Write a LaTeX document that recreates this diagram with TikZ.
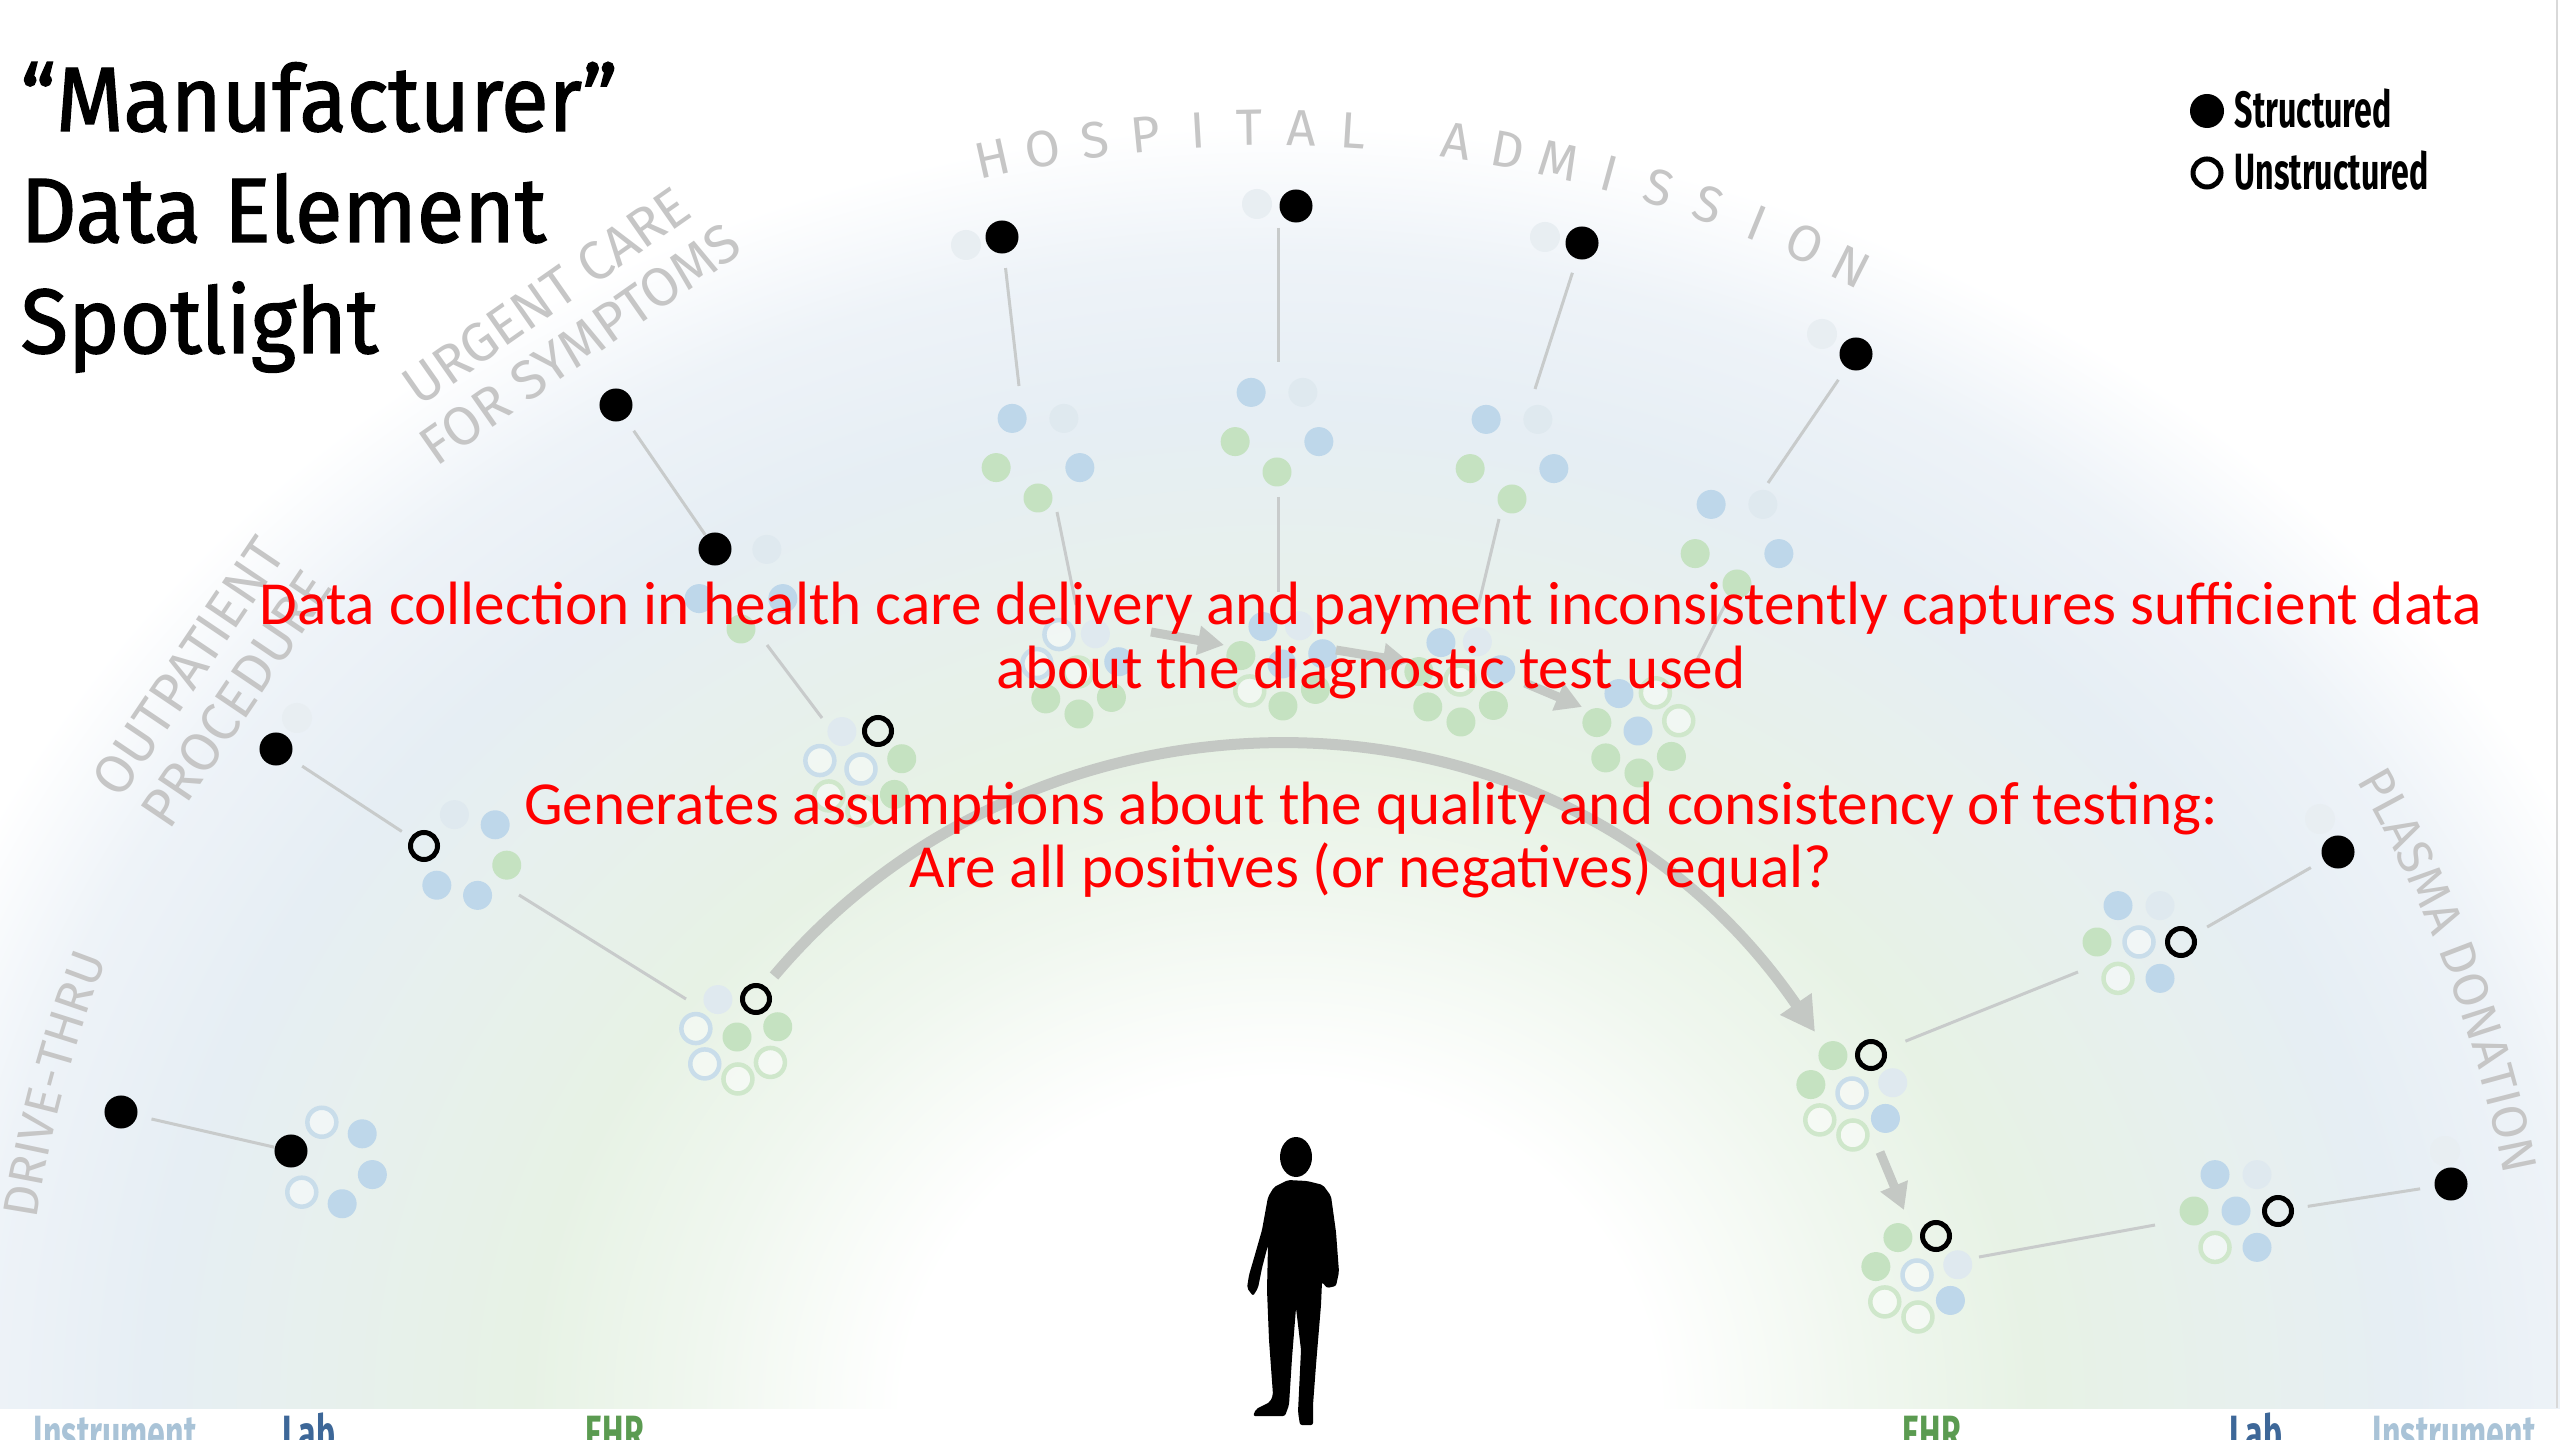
\documentclass[tikz,border=0pt]{standalone}
\usepackage{fontspec}
\setmainfont{Fira Sans}
\newfontfamily\titlefont[FakeBold=1.6]{Fira Sans}
\newfontfamily\msgfont{Carlito}
\usetikzlibrary{arrows.meta,decorations.text}

% background glow
\definecolor{glowA}{HTML}{F0F7EF}
\definecolor{glowB}{HTML}{E7F2E5}
\definecolor{glowC}{HTML}{E7F0ED}
\definecolor{glowD}{HTML}{E6EEF4}
\definecolor{glowE}{HTML}{EEF3F8}
% cluster dots
\definecolor{cluB}{HTML}{BED7EA}
\definecolor{cluG}{HTML}{C5E2C1}
\definecolor{cluBr}{HTML}{C9DDEA}
\definecolor{cluGr}{HTML}{CFE7CB}
\definecolor{cluF}{HTML}{DFE9EF}
\definecolor{ghost}{HTML}{E8EEF2}
% lines and text
\definecolor{linegray}{HTML}{C8CBCB}
\definecolor{arrowgray}{HTML}{C4C8C4}
\definecolor{labelgray}{HTML}{C6C6C6}
\definecolor{instr}{HTML}{A9C3D7}
\definecolor{labblue}{HTML}{3D6798}
\definecolor{ehrgreen}{HTML}{5B9B51}
\definecolor{msgred}{HTML}{FF0000}

\pgfdeclareradialshading{glow}{\pgfpoint{0bp}{0bp}}{%
  color(0bp)=(white); color(6.5bp)=(white); color(10bp)=(glowA);
  color(13bp)=(glowB); color(16.5bp)=(glowC); color(19.5bp)=(glowD);
  color(22.5bp)=(glowE); color(25bp)=(white); color(50bp)=(white)}

\newcommand{\arcfont}{\fontsize{14}{14}\selectfont\color{labelgray}}

\tikzset{
  sdot/.style={circle, fill=black, inner sep=0pt, minimum size=0.33cm},
  udot/.style={circle, draw=black, line width=0.05cm, inner sep=0pt, minimum size=0.27cm},
  conn/.style={draw=linegray, line width=0.03cm},
  flow/.style={draw=arrowgray, line width=0.11cm, -{Triangle[length=0.34cm,width=0.36cm]}},
  smallflow/.style={draw=arrowgray, line width=0.09cm, -{Triangle[length=0.26cm,width=0.28cm]}},
  cB/.style={fill=cluB},
  cG/.style={fill=cluG},
  cb/.style={draw=cluBr, line width=0.045cm, fill=white, fill opacity=0.45},
  cg/.style={draw=cluGr, line width=0.045cm, fill=white, fill opacity=0.45},
  cf/.style={fill=cluF},
  cn/.style={},
  ghostdot/.style={fill=ghost},
  titletext/.style={anchor=base west, inner sep=0pt, font=\titlefont\fontsize{26}{26}\selectfont},
  legendtext/.style={anchor=base west, inner sep=0pt, font=\fontsize{14.5}{15}\selectfont\bfseries},
  tag/.style={anchor=base west, inner sep=0pt, font=\fontsize{14.5}{15}\selectfont\bfseries},
  arcletter/.style={inner sep=0pt, font=\fontsize{14.5}{15}\selectfont, text=labelgray},
  arclabel/.style={inner sep=0pt, align=center, font=\fontsize{15.5}{16.5}\selectfont, text=labelgray},
  msg/.style={anchor=base, inner sep=0pt, font=\msgfont\fontsize{17.4}{20}\selectfont, text=msgred},
}

% ring of small dots: centre x, centre y, radius, first angle, count, styles
\newcommand{\bloom}[6]{%
  \foreach \cst [count=\cidx from 0] in {#6} {%
    \pgfmathsetmacro{\bx}{#1+#3*cos(#4+\cidx*360/#5)}%
    \pgfmathsetmacro{\by}{#2+#3*sin(#4+\cidx*360/#5)}%
    \path[\cst] (\bx,\by) circle[radius=14.5];%
  }%
}

\begin{document}
\begin{tikzpicture}[x=0.01cm,y=-0.01cm]
\useasboundingbox (0,0) rectangle (2560,1440);
\fill[white] (0,0) rectangle (2560,1440);

% glow behind the journey
\begin{scope}
  \clip (0,0) rectangle (2560,1408);
  \shade[shading=glow] (1280,1415) ellipse [x radius=1450, y radius=1290];
\end{scope}
\draw[gray!30, line width=0.02cm] (2557,0) -- (2557,1408);

% faint halos beside the structured points
\foreach \gx/\gy in {297/718, 966/245, 1257/204, 1545/237, 1822/334, 2320/819, 2445/1151}
  \path[ghostdot] (\gx,\gy) circle[radius=15];

% clusters of data elements
\bloom{332}{1163}{42}{196}{6}{cn,cb,cB,cB,cB,cb}
\bloom{466}{855}{42}{194}{6}{cn,cf,cB,cG,cB,cB}
\bloom{737}{1037}{42}{243}{7}{cf,cn,cG,cg,cg,cb,cb}
\path[cG] (737,1037) circle[radius=14.5];
\bloom{741}{585}{44}{234}{5}{cn,cf,cB,cG,cB}
\bloom{861}{769}{42}{243}{7}{cf,cn,cG,cG,cg,cg,cb}
\path[cb] (861,769) circle[radius=14.5];
\bloom{1038}{454}{44}{90}{5}{cG,cG,cB,cf,cB}
\bloom{1277}{428}{44}{90}{5}{cG,cG,cB,cf,cB}
\bloom{1512}{455}{44}{90}{5}{cG,cG,cB,cf,cB}
\bloom{1737}{540}{44}{90}{5}{cG,cG,cB,cf,cB}
\bloom{1078}{672}{42}{243}{7}{cb,cf,cB,cG,cG,cG,cb}
\path[cg] (1078,672) circle[radius=14.5];
\bloom{1282}{664}{42}{243}{7}{cB,cf,cB,cG,cG,cg,cG}
\path[cB] (1282,664) circle[radius=14.5];
\bloom{1460}{680}{42}{243}{7}{cB,cf,cB,cG,cG,cG,cG}
\path[cg] (1460,680) circle[radius=14.5];
\bloom{1638}{731}{42}{243}{7}{cB,cg,cg,cG,cG,cG,cG}
\path[cB] (1638,731) circle[radius=14.5];
\bloom{1852}{1093}{42}{243}{7}{cG,cn,cf,cB,cg,cg,cG}
\path[cb] (1852,1093) circle[radius=14.5];
\bloom{1917}{1275}{42}{243}{7}{cG,cn,cf,cB,cg,cg,cG}
\path[cb] (1917,1275) circle[radius=14.5];
\bloom{2139}{942}{42}{0}{6}{cn,cB,cg,cG,cB,cf}
\path[cb] (2139,942) circle[radius=14.5];
\bloom{2236}{1211}{42}{0}{6}{cn,cB,cg,cG,cB,cf}
\path[cB] (2236,1211) circle[radius=14.5];

% structured (filled) and unstructured (open) points
\node[sdot] (s1) at (121,1112) {};
\node[sdot] (s2) at (291,1151) {};
\node[sdot] (s3) at (276,749) {};
\node[sdot] (s4) at (616,405) {};
\node[sdot] (s5) at (715,549) {};
\node[sdot] (s6) at (1002,237) {};
\node[sdot] (s7) at (1296,206) {};
\node[sdot] (s8) at (1582,243) {};
\node[sdot] (s9) at (1856,354) {};
\node[sdot] (s10) at (2338,852) {};
\node[sdot] (s11) at (2451,1184) {};
\node[udot] (u1) at (424,846) {};
\node[udot] (u2) at (878,731) {};
\node[udot] (u3) at (756,999) {};
\node[udot] (u4) at (1871,1055) {};
\node[udot] (u5) at (1936,1236) {};
\node[udot] (u6) at (2181,942) {};
\node[udot] (u7) at (2278,1211) {};

% line ends at clusters
\coordinate (ca-out) at (519,895);   \coordinate (cc-in) at (686,999);
\coordinate (u1c-out) at (767,645);  \coordinate (m1-in) at (822,718);
\coordinate (t1-in) at (1019,386);   \coordinate (t1-out) at (1057,512);  \coordinate (m2-in) at (1076,605);
\coordinate (t2-top) at (1278,228);  \coordinate (t2-in) at (1278,362);
\coordinate (t2-out) at (1278,497);  \coordinate (m3-in) at (1278,592);
\coordinate (t3-in) at (1535,389);   \coordinate (t3-out) at (1499,519);  \coordinate (m4-in) at (1478,607);
\coordinate (t4-in) at (1768,483);   \coordinate (t4-out) at (1727,601);  \coordinate (m5-in) at (1697,660);
\coordinate (cf-in) at (2078,972);
\coordinate (ce-out) at (1979,1257); \coordinate (cg-in) at (2155,1225);

\draw[conn, shorten <=4pt] (s1) -- (s2);
\draw[conn, shorten <=4pt, shorten >=3pt] (s3) -- (u1);
\draw[conn] (ca-out) -- (cc-in);
\draw[conn, shorten <=4pt] (s4) -- (s5);
\draw[conn] (u1c-out) -- (m1-in);
\draw[conn, shorten <=4pt] (s6) -- (t1-in);
\draw[conn] (t1-out) -- (m2-in);
\draw[conn] (t2-top) -- (t2-in);
\draw[conn] (t2-out) -- (m3-in);
\draw[conn, shorten <=4pt] (s8) -- (t3-in);
\draw[conn] (t3-out) -- (m4-in);
\draw[conn, shorten <=4pt] (s9) -- (t4-in);
\draw[conn] (t4-out) -- (m5-in);
\draw[conn, shorten <=6pt] (u4) -- (cf-in);
\draw[conn, shorten <=4pt, shorten >=4pt] (u6) -- (s10);
\draw[conn] (ce-out) -- (cg-in);
\draw[conn, shorten <=4pt, shorten >=4pt] (u7) -- (s11);

% flow arrows
\coordinate (arc-start) at (774,976);
\coordinate (arc-end) at (1815,1032);
\draw[flow] (arc-start) .. controls (1040,660) and (1560,660) .. (arc-end);
\coordinate (de-start) at (1880,1152);
\coordinate (de-end) at (1904,1210);
\draw[smallflow] (de-start) -- (de-end);
\coordinate (m23a) at (1151,632); \coordinate (m23b) at (1224,645);
\coordinate (m34a) at (1336,650); \coordinate (m34b) at (1409,662);
\coordinate (m45a) at (1525,683); \coordinate (m45b) at (1582,707);
\draw[smallflow] (m23a) -- (m23b);
\draw[smallflow] (m34a) -- (m34b);
\draw[smallflow] (m45a) -- (m45b);

% setting labels around the arc
\foreach \ch [count=\k from 0] in {H,O,S,P,I,T,A,L,{},A,D,M,I,S,S,I,O,N} {
  \pgfmathsetmacro{\ang}{102.6-2.32*\k}
  \node[arcletter, rotate=\ang-90] (hosp\k) at ({1272+1283*cos(\ang)},{1411-1283*sin(\ang)}) {\ch};
}
\path[decorate, decoration={text along path, text align=center, text={|\arcfont|DRIVE-THRU}}]
  ([shift={(1272,1411)}]-180:1250) arc[start angle=-180, end angle=-150, radius=1250];
\path[decorate, decoration={text along path, text align=center, text={|\arcfont|PLASMA DONATION}}]
  ([shift={(1272,1411)}]-40:1254) arc[start angle=-40, end angle=-1, radius=1254];
\node[arclabel, rotate=35] (urgent) at (563,320) {URGENT CARE\\FOR SYMPTOMS};
\node[arclabel, rotate=56] (outpat) at (212,683) {OUTPATIENT\\PROCEDURE};

% title
\node[titletext] (title1) at (20,131) {\scalebox{0.95}[1]{“Manufacturer”}};
\node[titletext] (title2) at (20,242) {\scalebox{0.95}[1]{Data Element}};
\node[titletext] (title3) at (20,353) {\scalebox{0.95}[1]{Spotlight}};

% legend
\node[sdot, minimum size=0.34cm] (legS) at (2207,111) {};
\node[udot, minimum size=0.28cm] (legU) at (2207,173) {};
\node[legendtext] (legStxt) at (2234,128) {\scalebox{0.63}[1]{Structured}};
\node[legendtext] (legUtxt) at (2234,190) {\scalebox{0.63}[1]{Unstructured}};

% source labels along the bottom
\node[tag, text=instr] (instrL) at (33,1451) {\scalebox{0.63}[1]{Instrument}};
\node[tag, text=labblue] (labL) at (282,1451) {\scalebox{0.63}[1]{Lab}};
\node[tag, text=ehrgreen] (ehrL) at (585,1451) {\scalebox{0.63}[1]{EHR}};
\node[tag, text=ehrgreen] (ehrR) at (1902,1451) {\scalebox{0.63}[1]{EHR}};
\node[tag, text=labblue] (labR) at (2229,1451) {\scalebox{0.63}[1]{Lab}};
\node[tag, text=instr] (instrR) at (2372,1451) {\scalebox{0.63}[1]{Instrument}};

% patient silhouette
\fill[black, rounded corners=0.6pt] (1288,1180) -- (1274,1187) -- (1268,1197) -- (1262,1230)
  -- (1254,1258) -- (1249,1275) -- (1247,1288) -- (1253,1296) -- (1258,1288) -- (1262,1268)
  -- (1268,1245) -- (1267,1290) -- (1269,1340) -- (1273,1395) -- (1270,1402) -- (1256,1409)
  -- (1253,1416) -- (1285,1416) -- (1289,1405) -- (1292,1358) -- (1296,1308) -- (1301,1350)
  -- (1298,1412) -- (1300,1425) -- (1313,1425) -- (1313,1405) -- (1316,1365) -- (1321,1305)
  -- (1322,1282) -- (1327,1288) -- (1336,1286) -- (1339,1272) -- (1336,1232) -- (1331,1196)
  -- (1323,1185) -- (1307,1181) -- cycle;
\fill[black] (1296,1157) ellipse [x radius=16, y radius=20];

% message
\node[msg] (msgA) at (1371,625) {Data collection in health care delivery and payment inconsistently captures sufficient data};
\node[msg] (msgB) at (1371,689) {about the diagnostic test used};
\node[msg] (msgC) at (1371,824) {Generates assumptions about the quality and consistency of testing:};
\node[msg] (msgD) at (1371,888) {Are all positives (or negatives) equal?};
\end{tikzpicture}
\end{document}
